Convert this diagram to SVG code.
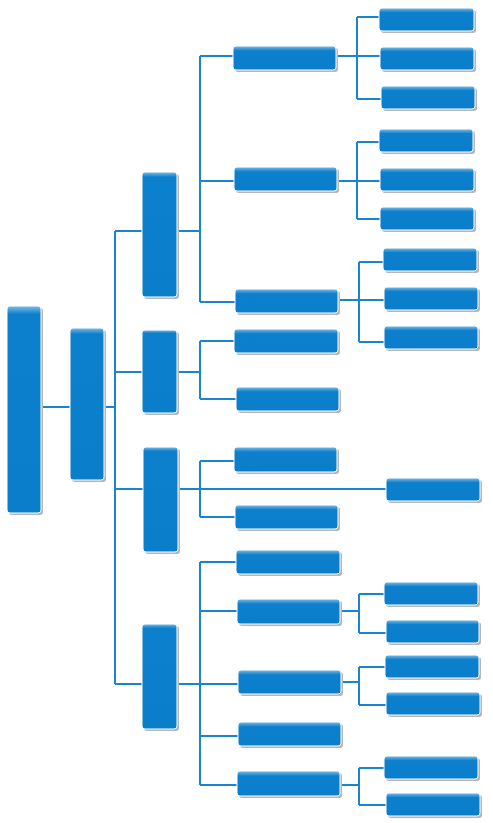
<svg xmlns="http://www.w3.org/2000/svg" width="493" height="823" viewBox="0 0 493 823">
<defs>
<linearGradient id="gh" x1="0" y1="0" x2="0" y2="1">
<stop offset="0" stop-color="#7fbde8"/>
<stop offset="0.2" stop-color="#0c80cc"/>
<stop offset="1" stop-color="#0a7ecb"/>
</linearGradient>
<linearGradient id="gv" x1="0" y1="0" x2="0" y2="1">
<stop offset="0" stop-color="#7fbde8"/>
<stop offset="0.04" stop-color="#0c80cc"/>
<stop offset="1" stop-color="#0a7ecb"/>
</linearGradient>
</defs>
<style>
.sh{fill:#b5b5b5}
.h{fill:url(#gh);stroke:#ffffff;stroke-width:1}
.v{fill:url(#gv);stroke:#ffffff;stroke-width:1}
.c{fill:none;stroke:#1a84cf;stroke-width:2}
</style>
<rect width="493" height="823" fill="#ffffff"/>
<g id="connectors" class="c">
<path d="M41 407H70M104 407H115M115 231V684M115 231H142M115 372H142M115 489H143M115 684H142"/>
<path d="M177 231H200M200 56V302M200 56H233M200 181H234M200 302H235"/>
<path d="M177 372H200M200 341V399M200 341H234M200 399H236"/>
<path d="M178 489H386M200 461V517M200 461H234M200 517H235"/>
<path d="M178 684H200M200 562V785M200 562H236M200 611H237M200 684H238M200 736H238M200 785H237"/>
<path d="M336 56H357M357 17V99M357 17H379M357 56H380M357 99H381"/>
<path d="M337 181H357M357 142V219M357 142H379M357 181H380M357 219H380"/>
<path d="M338 300H359M359 262V342M359 262H383M359 300H384M359 342H384"/>
<path d="M340 611H359M359 594V633M359 594H384M359 633H386"/>
<path d="M341 682H359M359 667V705M359 667H385M359 705H386"/>
<path d="M340 785H359M359 768V805M359 768H384M359 805H386"/>
</g>
<g id="root"><rect class="sh" x="9" y="308" width="34" height="207" rx="3"/><rect class="v" x="7" y="306" width="34" height="207" rx="3"/></g>
<g id="l1"><rect class="sh" x="72" y="330" width="34" height="152" rx="3"/><rect class="v" x="70" y="328" width="34" height="152" rx="3"/></g>
<g id="a"><rect class="sh" x="144" y="174" width="35" height="125" rx="3"/><rect class="v" x="142" y="172" width="35" height="125" rx="3"/></g>
<g id="b"><rect class="sh" x="144" y="332" width="35" height="83" rx="3"/><rect class="v" x="142" y="330" width="35" height="83" rx="3"/></g>
<g id="c"><rect class="sh" x="145" y="449" width="35" height="105" rx="3"/><rect class="v" x="143" y="447" width="35" height="105" rx="3"/></g>
<g id="d"><rect class="sh" x="144" y="626" width="35" height="105" rx="3"/><rect class="v" x="142" y="624" width="35" height="105" rx="3"/></g>
<g id="a1"><rect class="sh" x="235" y="48" width="103" height="24" rx="3"/><rect class="h" x="233" y="46" width="103" height="24" rx="3"/></g>
<g id="a2"><rect class="sh" x="236" y="169" width="103" height="24" rx="3"/><rect class="h" x="234" y="167" width="103" height="24" rx="3"/></g>
<g id="a3"><rect class="sh" x="237" y="291" width="103" height="24" rx="3"/><rect class="h" x="235" y="289" width="103" height="24" rx="3"/></g>
<g id="b1"><rect class="sh" x="236" y="331" width="104" height="24" rx="3"/><rect class="h" x="234" y="329" width="104" height="24" rx="3"/></g>
<g id="b2"><rect class="sh" x="238" y="389" width="103" height="24" rx="3"/><rect class="h" x="236" y="387" width="103" height="24" rx="3"/></g>
<g id="c1"><rect class="sh" x="236" y="449" width="103" height="25" rx="3"/><rect class="h" x="234" y="447" width="103" height="25" rx="3"/></g>
<g id="c2"><rect class="sh" x="237" y="507" width="103" height="24" rx="3"/><rect class="h" x="235" y="505" width="103" height="24" rx="3"/></g>
<g id="c3"><rect class="sh" x="388" y="480" width="94" height="23" rx="3"/><rect class="h" x="386" y="478" width="94" height="23" rx="3"/></g>
<g id="d1"><rect class="sh" x="238" y="552" width="104" height="24" rx="3"/><rect class="h" x="236" y="550" width="104" height="24" rx="3"/></g>
<g id="d2"><rect class="sh" x="239" y="601" width="103" height="25" rx="3"/><rect class="h" x="237" y="599" width="103" height="25" rx="3"/></g>
<g id="d3"><rect class="sh" x="240" y="672" width="103" height="24" rx="3"/><rect class="h" x="238" y="670" width="103" height="24" rx="3"/></g>
<g id="d4"><rect class="sh" x="240" y="724" width="103" height="24" rx="3"/><rect class="h" x="238" y="722" width="103" height="24" rx="3"/></g>
<g id="d5"><rect class="sh" x="239" y="773" width="103" height="25" rx="3"/><rect class="h" x="237" y="771" width="103" height="25" rx="3"/></g>
<g id="a1a"><rect class="sh" x="381" y="10" width="95" height="23" rx="3"/><rect class="h" x="379" y="8" width="95" height="23" rx="3"/></g>
<g id="a1b"><rect class="sh" x="382" y="49" width="94" height="23" rx="3"/><rect class="h" x="380" y="47" width="94" height="23" rx="3"/></g>
<g id="a1c"><rect class="sh" x="383" y="88" width="94" height="23" rx="3"/><rect class="h" x="381" y="86" width="94" height="23" rx="3"/></g>
<g id="a2a"><rect class="sh" x="381" y="131" width="94" height="23" rx="3"/><rect class="h" x="379" y="129" width="94" height="23" rx="3"/></g>
<g id="a2b"><rect class="sh" x="382" y="170" width="94" height="23" rx="3"/><rect class="h" x="380" y="168" width="94" height="23" rx="3"/></g>
<g id="a2c"><rect class="sh" x="382" y="209" width="94" height="23" rx="3"/><rect class="h" x="380" y="207" width="94" height="23" rx="3"/></g>
<g id="a3a"><rect class="sh" x="385" y="250" width="94" height="23" rx="3"/><rect class="h" x="383" y="248" width="94" height="23" rx="3"/></g>
<g id="a3b"><rect class="sh" x="386" y="289" width="94" height="23" rx="3"/><rect class="h" x="384" y="287" width="94" height="23" rx="3"/></g>
<g id="a3c"><rect class="sh" x="386" y="328" width="94" height="23" rx="3"/><rect class="h" x="384" y="326" width="94" height="23" rx="3"/></g>
<g id="d2a"><rect class="sh" x="386" y="584" width="94" height="23" rx="3"/><rect class="h" x="384" y="582" width="94" height="23" rx="3"/></g>
<g id="d2b"><rect class="sh" x="388" y="622" width="93" height="23" rx="3"/><rect class="h" x="386" y="620" width="93" height="23" rx="3"/></g>
<g id="d3a"><rect class="sh" x="387" y="657" width="94" height="23" rx="3"/><rect class="h" x="385" y="655" width="94" height="23" rx="3"/></g>
<g id="d3b"><rect class="sh" x="388" y="694" width="94" height="23" rx="3"/><rect class="h" x="386" y="692" width="94" height="23" rx="3"/></g>
<g id="d5a"><rect class="sh" x="386" y="758" width="94" height="23" rx="3"/><rect class="h" x="384" y="756" width="94" height="23" rx="3"/></g>
<g id="d5b"><rect class="sh" x="388" y="795" width="94" height="23" rx="3"/><rect class="h" x="386" y="793" width="94" height="23" rx="3"/></g>
</svg>
